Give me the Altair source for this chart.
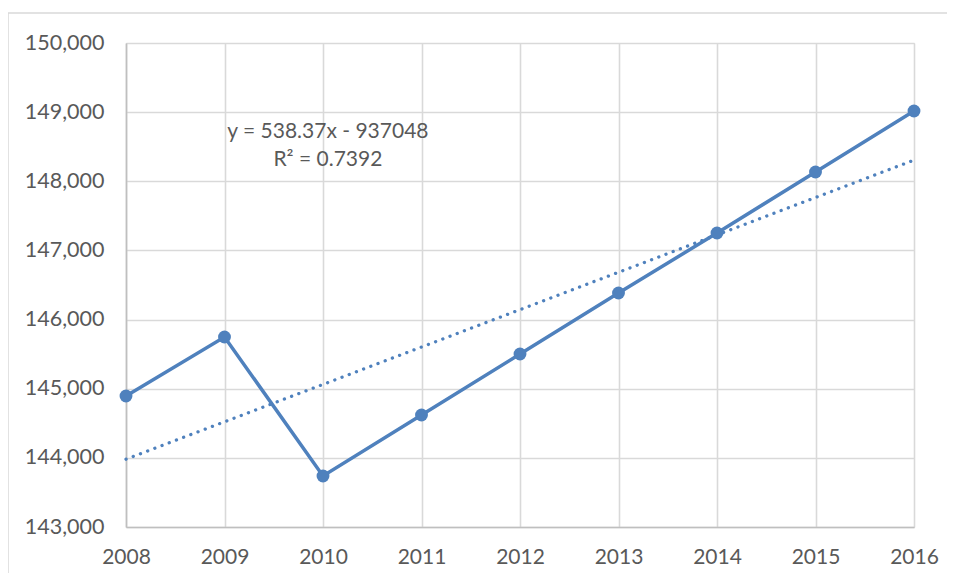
import altair as alt
import pandas as pd

years = [2008, 2009, 2010, 2011, 2012, 2013, 2014, 2015, 2016]
values = [144895, 145748, 143738, 144620, 145502, 146384, 147252, 148134, 149017]
y_ticks = [143000, 144000, 145000, 146000, 147000, 148000, 149000, 150000]
eq_lines = ["y = 538.37x - 937048", "R² = 0.7392"]
eq_x = [2010.05, 2010.05]
eq_y = [148713, 148308]

df = pd.DataFrame({"year": years, "value": values})
ann = pd.DataFrame({"text": eq_lines, "year": eq_x, "value": eq_y})

BLUE = "#4f81bd"
FONT = "Lato"
TXT = "#595959"

xs = alt.Scale(domain=[2008, 2016], nice=False, zero=False)
ys = alt.Scale(domain=[143000, 150000], nice=False, zero=False)

x_axis = alt.Axis(values=years, format="d", title=None,
                  labelFont=FONT, labelFontSize=21, labelColor=TXT, labelPadding=19,
                  ticks=False, grid=True, gridColor="#d9d9d9", gridWidth=1.6,
                  domainColor="#bfbfbf", domainWidth=1.6, labelFlush=False)
y_axis = alt.Axis(values=y_ticks, format=",.0f", title=None,
                  labelFont=FONT, labelFontSize=21.5, labelColor=TXT, labelPadding=22,
                  ticks=False, grid=True, gridColor="#d9d9d9", gridWidth=1.6,
                  domainColor="#bfbfbf", domainWidth=1.6)

def X():
    return alt.X("year:Q", scale=xs, axis=x_axis)

def Y():
    return alt.Y("value:Q", scale=ys, axis=y_axis)

base = alt.Chart(df)

line = base.mark_line(color=BLUE, strokeWidth=3.5).encode(x=X(), y=Y())
trend = base.transform_regression("year", "value", method="linear").mark_line(
    color=BLUE, strokeWidth=3.3, strokeDash=[0.1, 7.6], strokeCap="round"
).encode(x=X(), y=Y())
pts = base.mark_circle(color=BLUE, opacity=1, size=165).encode(x=X(), y=Y())
text = alt.Chart(ann).mark_text(font=FONT, fontSize=21, color=TXT, align="center",
                                baseline="middle").encode(x=X(), y=Y(), text="text:N")
border = alt.Chart(pd.DataFrame({"a": [0]})).mark_rect(
    fill=None, stroke="#d9d9d9", strokeWidth=1.5
).encode(x=alt.value(-118), x2=alt.value(830), y=alt.value(-30), y2=alt.value(560))

chart = alt.layer(trend, line, pts, text, border).properties(
    width=788, height=484,
    autosize=alt.AutoSizeParams(type="none"),
    padding={"left": 118, "top": 35, "right": 33, "bottom": 46},
).configure_view(stroke=None).configure(background="white")

chart.save("out.html", embed_options={"renderer": "svg", "actions": False})
